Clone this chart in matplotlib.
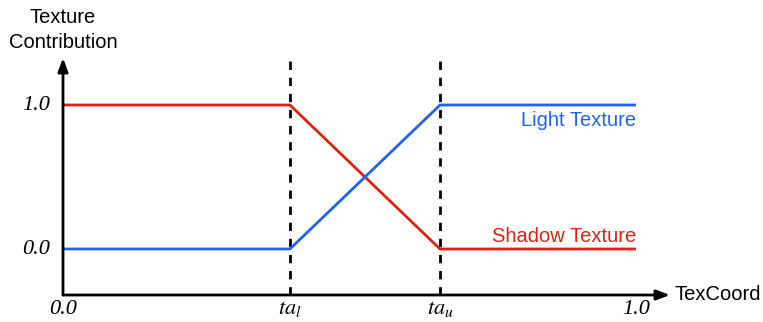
import matplotlib.pyplot as plt

# Key points of the blend
ta_l = 0.396
ta_u = 0.658
tex_coord = [0.0, ta_l, ta_u, 1.0]
light_texture = [0.0, 0.0, 1.0, 1.0]
shadow_texture = [1.0, 1.0, 0.0, 0.0]

x_tick_pos = [0.0, ta_l, ta_u, 1.0]
x_tick_labels = ['0.0', r'$ta_l$', r'$ta_u$', '1.0']
y_tick_pos = [0.0, 1.0]
y_tick_labels = ['0.0', '1.0']

red = '#dd2211'
blue = '#2262f0'

plt.rcParams['font.family'] = ['Liberation Sans', 'DejaVu Sans']
plt.rcParams['mathtext.fontset'] = 'stix'

fig = plt.figure(figsize=(7.63, 3.22), dpi=100)
ax = fig.add_axes([0, 0, 1, 1])
ax.set_xlim(-63 / 573, 700 / 573)
ax.set_ylim(-73 / 144, 249 / 144)
ax.axis('off')

y0 = -46 / 144  # where the x axis sits

# dashed guides
for xv in [ta_l, ta_u]:
    ax.plot([xv, xv], [y0, 1.35], color='black', lw=2.0, ls=(0, (3.0, 2.8)))

ax.plot(tex_coord, shadow_texture, color=red, lw=2.0, solid_capstyle='butt')
ax.plot(tex_coord, light_texture, color=blue, lw=2.0, solid_capstyle='butt')

# axes with arrows
ax.annotate('', xy=(607 / 573, y0), xytext=(0, y0),
            arrowprops=dict(arrowstyle='-|>,head_length=0.8,head_width=0.3',
                            color='black', lw=2.0, shrinkA=0, shrinkB=0))
ax.annotate('', xy=(0, 191 / 144), xytext=(0, y0),
            arrowprops=dict(arrowstyle='-|>,head_length=0.8,head_width=0.3',
                            color='black', lw=2.0, shrinkA=0, shrinkB=0))

serif = dict(family='Liberation Serif', style='italic', fontsize=16)
for xv, lab in zip(x_tick_pos, x_tick_labels):
    ax.text(xv, y0 - 0.1, lab, ha='center', va='center', **serif)
for yv, lab in zip(y_tick_pos, y_tick_labels):
    ax.text(-13 / 573, yv, lab, ha='right', va='center', **serif)

ax.text(0, 219 / 144, 'Texture\nContribution', ha='center', va='center',
        fontsize=14.5, linespacing=1.35)
ax.text(1.0, 1.0 - 0.105, 'Light Texture', ha='right', va='center',
        color=blue, fontsize=14.5)
ax.text(1.0, 0.085, 'Shadow Texture', ha='right', va='center',
        color=red, fontsize=14.5)
ax.text(612 / 573, y0, 'TexCoord', ha='left', va='center', fontsize=14.5)

fig.savefig('out.png', dpi=100)
